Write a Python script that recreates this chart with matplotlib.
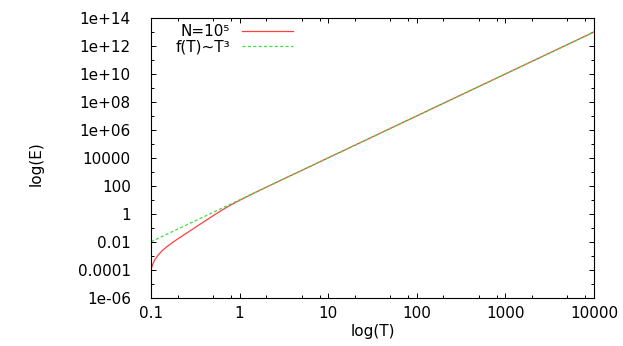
import matplotlib
matplotlib.use("Agg")
import matplotlib.pyplot as plt
from matplotlib.ticker import LogLocator, FixedLocator, FuncFormatter, NullFormatter

# ---- data ----
T_red = [0.1, 0.105, 0.11, 0.12, 0.135, 0.15, 0.175, 0.214, 0.26, 0.332,
         0.41, 0.513, 0.65, 0.8, 1.0, 1.5, 2.0, 10, 100, 1000, 10000]
E_red = [1.0e-4, 2.59e-4, 5.06e-4, 1.09e-3, 2.46e-3, 4.25e-3, 8.9e-3, 2.09e-2,
         4.73e-2, 0.130, 0.315, 0.794, 2.04, 4.36, 9.23, 33.0, 80.0,
         1e4, 1e7, 1e10, 1e13]

T_fit = [0.1, 1, 10, 100, 1000, 10000]
E_fit = [0.01, 10, 1e4, 1e7, 1e10, 1e13]

label_red = "N=10\u2075"
label_fit = "f(T)~T\u00b3"
xlabel = "log(T)"
ylabel = "log(E)"

FS = 11
plt.rcParams['font.family'] = ['DejaVu Sans']

fig = plt.figure(figsize=(6.23, 3.46), dpi=100)
W, H = 623, 346
left, right, top, bottom = 151, 594, 18, 297.7
ax = fig.add_axes([left / W, 1 - bottom / H, (right - left) / W, (bottom - top) / H])

RED = '#ff4040'
GREEN = '#44dd44'
ax.plot(T_red, E_red, color=RED, lw=0.9)
ax.plot(T_fit, E_fit, color=GREEN, lw=0.9, dashes=(2.5, 1.8))

ax.set_xscale('log')
ax.set_yscale('log')
ax.set_xlim(0.1, 10000)
ax.set_ylim(1e-6, 1e14)

fmt = FuncFormatter(lambda v, p: "%g" % v)
ax.xaxis.set_major_locator(LogLocator(base=10, numticks=20))
ax.xaxis.set_minor_locator(LogLocator(base=10, subs=(2, 5, 8), numticks=50))
ax.xaxis.set_major_formatter(fmt)
ax.xaxis.set_minor_formatter(NullFormatter())
ax.yaxis.set_major_locator(LogLocator(base=100, numticks=20))
ax.yaxis.set_minor_locator(FixedLocator([10.0 ** k for k in range(-5, 14, 2)]))
ax.yaxis.set_major_formatter(fmt)
ax.yaxis.set_minor_formatter(NullFormatter())

ax.tick_params(which='both', direction='in', top=True, right=True,
               labelsize=FS, width=0.7, colors='black')
ax.tick_params(which='major', length=3.8)
ax.tick_params(which='minor', length=2.0)
ax.tick_params(axis='x', which='major', pad=6)
ax.tick_params(axis='y', which='major', pad=14.5)
for s in ax.spines.values():
    s.set_linewidth(0.8)

ax.set_xlabel(xlabel, fontsize=FS)
ax.set_ylabel(ylabel, fontsize=FS)
ax.xaxis.set_label_coords(0.5, (bottom - 324) / (bottom - top))
ax.yaxis.set_label_coords((44 - left) / (right - left), 0.48)

# legend (gnuplot style: right-justified text, sample to the right)
xt = (230 - left) / (right - left)
x0 = (242 - left) / (right - left)
x1 = (293 - left) / (right - left)
rows = [(label_red, 36.0, 30.5, dict(color=RED, lw=0.9)),
        (label_fit, 52.0, 45.5, dict(color=GREEN, lw=0.9, dashes=(2.5, 1.8)))]
for lab, yb, yl, kw in rows:
    ax.text(xt, (bottom - yb) / (bottom - top), lab, ha='right', va='baseline',
            fontsize=FS, transform=ax.transAxes)
    yy = (bottom - yl) / (bottom - top)
    ax.plot([x0, x1], [yy, yy], transform=ax.transAxes, **kw)

fig.savefig("out.png", dpi=100, facecolor='white')
